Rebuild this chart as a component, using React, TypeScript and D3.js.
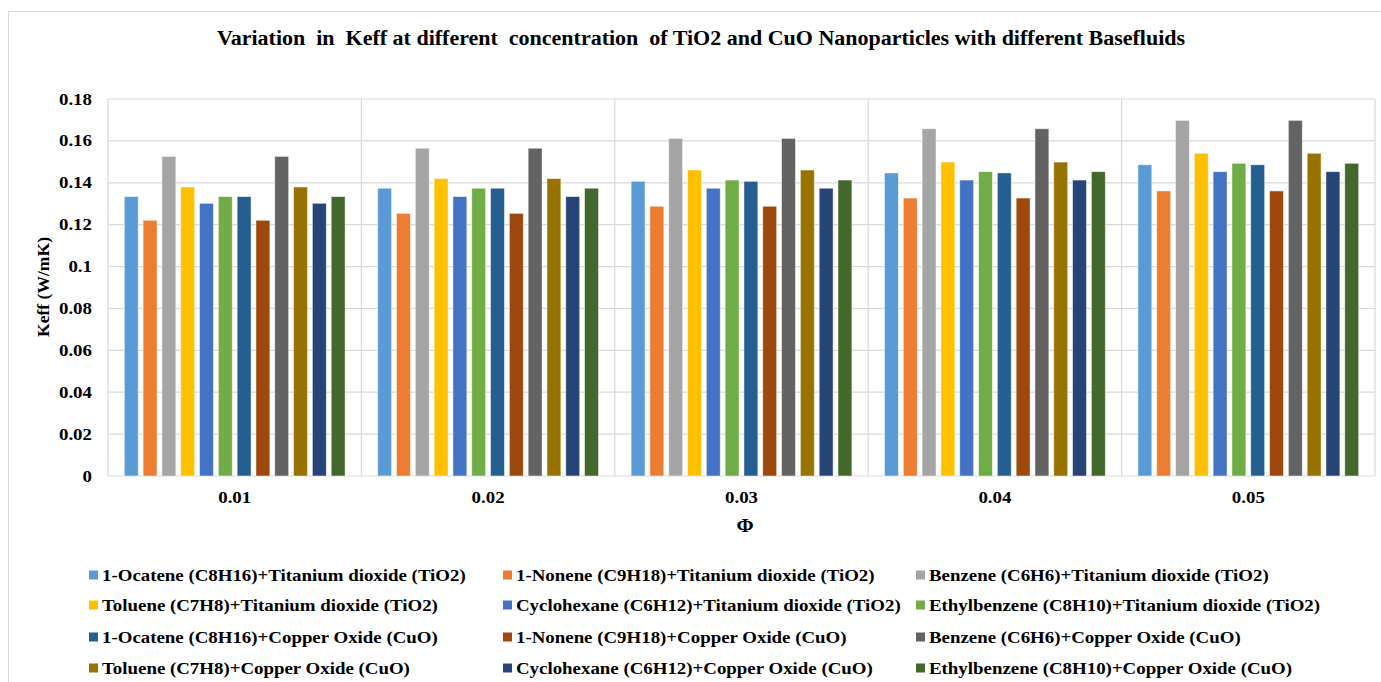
import React from 'react';
import * as d3 from 'd3';

// concentration (phi) categories
const categories = ['0.01', '0.02', '0.03', '0.04', '0.05'];

const yTicks = [0, 0.02, 0.04, 0.06, 0.08, 0.1, 0.12, 0.14, 0.16, 0.18];

// Keff (W/mK) per base fluid + nanoparticle
const octeneTiO2 = [0.1334, 0.1374, 0.1407, 0.1447, 0.1486];
const noneneTiO2 = [0.1221, 0.1254, 0.1288, 0.1327, 0.1361];
const benzeneTiO2 = [0.1526, 0.1565, 0.1612, 0.1658, 0.1698];
const tolueneTiO2 = [0.138, 0.142, 0.1461, 0.1499, 0.1541];
const cyclohexaneTiO2 = [0.1302, 0.1334, 0.1374, 0.1413, 0.1453];
const ethylbenzeneTiO2 = [0.1334, 0.1374, 0.1413, 0.1453, 0.1493];
const octeneCuO = [0.1334, 0.1374, 0.1407, 0.1447, 0.1486];
const noneneCuO = [0.1221, 0.1254, 0.1288, 0.1327, 0.1361];
const benzeneCuO = [0.1526, 0.1565, 0.1612, 0.1658, 0.1698];
const tolueneCuO = [0.138, 0.142, 0.1461, 0.1499, 0.1541];
const cyclohexaneCuO = [0.1302, 0.1334, 0.1374, 0.1413, 0.1453];
const ethylbenzeneCuO = [0.1334, 0.1374, 0.1413, 0.1453, 0.1493];

const seriesNames = [
  '1-Ocatene (C8H16)+Titanium dioxide (TiO2)',
  '1-Nonene (C9H18)+Titanium dioxide (TiO2)',
  'Benzene (C6H6)+Titanium dioxide (TiO2)',
  'Toluene (C7H8)+Titanium dioxide (TiO2)',
  'Cyclohexane (C6H12)+Titanium dioxide (TiO2)',
  'Ethylbenzene (C8H10)+Titanium dioxide (TiO2)',
  '1-Ocatene (C8H16)+Copper Oxide (CuO)',
  '1-Nonene (C9H18)+Copper Oxide (CuO)',
  'Benzene (C6H6)+Copper Oxide (CuO)',
  'Toluene (C7H8)+Copper Oxide (CuO)',
  'Cyclohexane (C6H12)+Copper Oxide (CuO)',
  'Ethylbenzene (C8H10)+Copper Oxide (CuO)',
];

const seriesValues = [
  octeneTiO2, noneneTiO2, benzeneTiO2, tolueneTiO2, cyclohexaneTiO2, ethylbenzeneTiO2,
  octeneCuO, noneneCuO, benzeneCuO, tolueneCuO, cyclohexaneCuO, ethylbenzeneCuO,
];

const colors = [
  '#5B9BD5', '#ED7D31', '#A5A5A5', '#FFC000', '#4472C4', '#70AD47',
  '#255E91', '#9E480E', '#636363', '#997300', '#264478', '#43682B',
];

const FONT = '"Liberation Serif", "Times New Roman", serif';
const GRID = '#d9d9d9';

function Label({ x, y, text, size, sx = 1.18, anchor = 'start', rotate = 0 }: {
  x: number; y: number; text: string; size: number; sx?: number; anchor?: string; rotate?: number;
}) {
  return (
    <text
      transform={`translate(${x},${y}) rotate(${rotate}) scale(${sx},1)`}
      textAnchor={anchor}
      fontFamily={FONT}
      fontWeight="bold"
      fontSize={size}
      fill="#000"
      style={{ whiteSpace: 'pre' }}
    >
      {text}
    </text>
  );
}

export default function App() {
  const width = 1381;
  const height = 682;
  const plot = { left: 108, right: 1375, top: 99, bottom: 476 };

  const y = d3.scaleLinear().domain([0, 0.18]).range([plot.bottom, plot.top]);
  const x0 = d3.scaleBand<string>().domain(categories).range([plot.left, plot.right]);
  const bw = x0.bandwidth();
  const x1 = d3.scaleBand<string>()
    .domain(seriesNames)
    .range([16.3, bw - 16.3])
    .paddingInner(0.26);

  // legend layout: 3 columns, 4 rows
  const legendCols = [89, 503, 916];
  const legendRows = [575, 605, 637, 668];

  return (
    <div style={{ position: 'absolute', left: 0, top: 0 }}>
      <svg width={width} height={height} style={{ display: 'block', background: '#fff' }}>
        <rect x={8.5} y={11.5} width={1400} height={700} fill="#fff" stroke={GRID} />

        <Label x={701} y={45} text="Variation  in  Keff at different  concentration  of TiO2 and CuO Nanoparticles with different Basefluids" size={20} sx={1.1} anchor="middle" />

        {/* horizontal gridlines */}
        {yTicks.map(t => (
          <line key={t} x1={plot.left} x2={plot.right} y1={y(t)} y2={y(t)} stroke={GRID} strokeWidth={1.2} />
        ))}
        {/* category separators */}
        {[...categories.map(c => x0(c)!), plot.right].map((xv, i) => (
          <line key={i} x1={xv} x2={xv} y1={plot.top} y2={plot.bottom} stroke={GRID} strokeWidth={1.2} />
        ))}

        {/* bars */}
        {categories.map((c, ci) => (
          <g key={c} transform={`translate(${x0(c)},0)`}>
            {seriesNames.map((s, si) => (
              <rect
                key={s}
                x={x1(s)}
                y={y(seriesValues[si][ci])}
                width={x1.bandwidth()}
                height={y(0) - y(seriesValues[si][ci])}
                fill={colors[si]}
                stroke="#ffffff"
                strokeOpacity={0.6}
                strokeWidth={0.8}
              />
            ))}
          </g>
        ))}

        {/* y ticks */}
        {yTicks.map(t => (
          <Label key={t} x={92} y={y(t) + 5.5} text={d3.format('~g')(t)} size={16} anchor="end" />
        ))}
        <Label x={49} y={287} text="Keff (W/mK)" size={16} sx={1.1} anchor="middle" rotate={-90} />

        {/* x ticks */}
        {categories.map(c => (
          <Label key={c} x={x0(c)! + bw / 2} y={503} text={c} size={16} anchor="middle" />
        ))}
        <Label x={745} y={532} text="Φ" size={18} sx={1.15} anchor="middle" />

        {/* legend */}
        {seriesNames.map((s, i) => {
          const col = i % 3;
          const row = Math.floor(i / 3);
          const lx = legendCols[col];
          const ly = legendRows[row];
          return (
            <g key={s}>
              <rect x={lx} y={ly - 4.5} width={9} height={9} fill={colors[i]} />
              <Label x={lx + 13} y={ly + 5.5} text={s} size={16} sx={1.18} />
            </g>
          );
        })}
      </svg>
    </div>
  );
}
